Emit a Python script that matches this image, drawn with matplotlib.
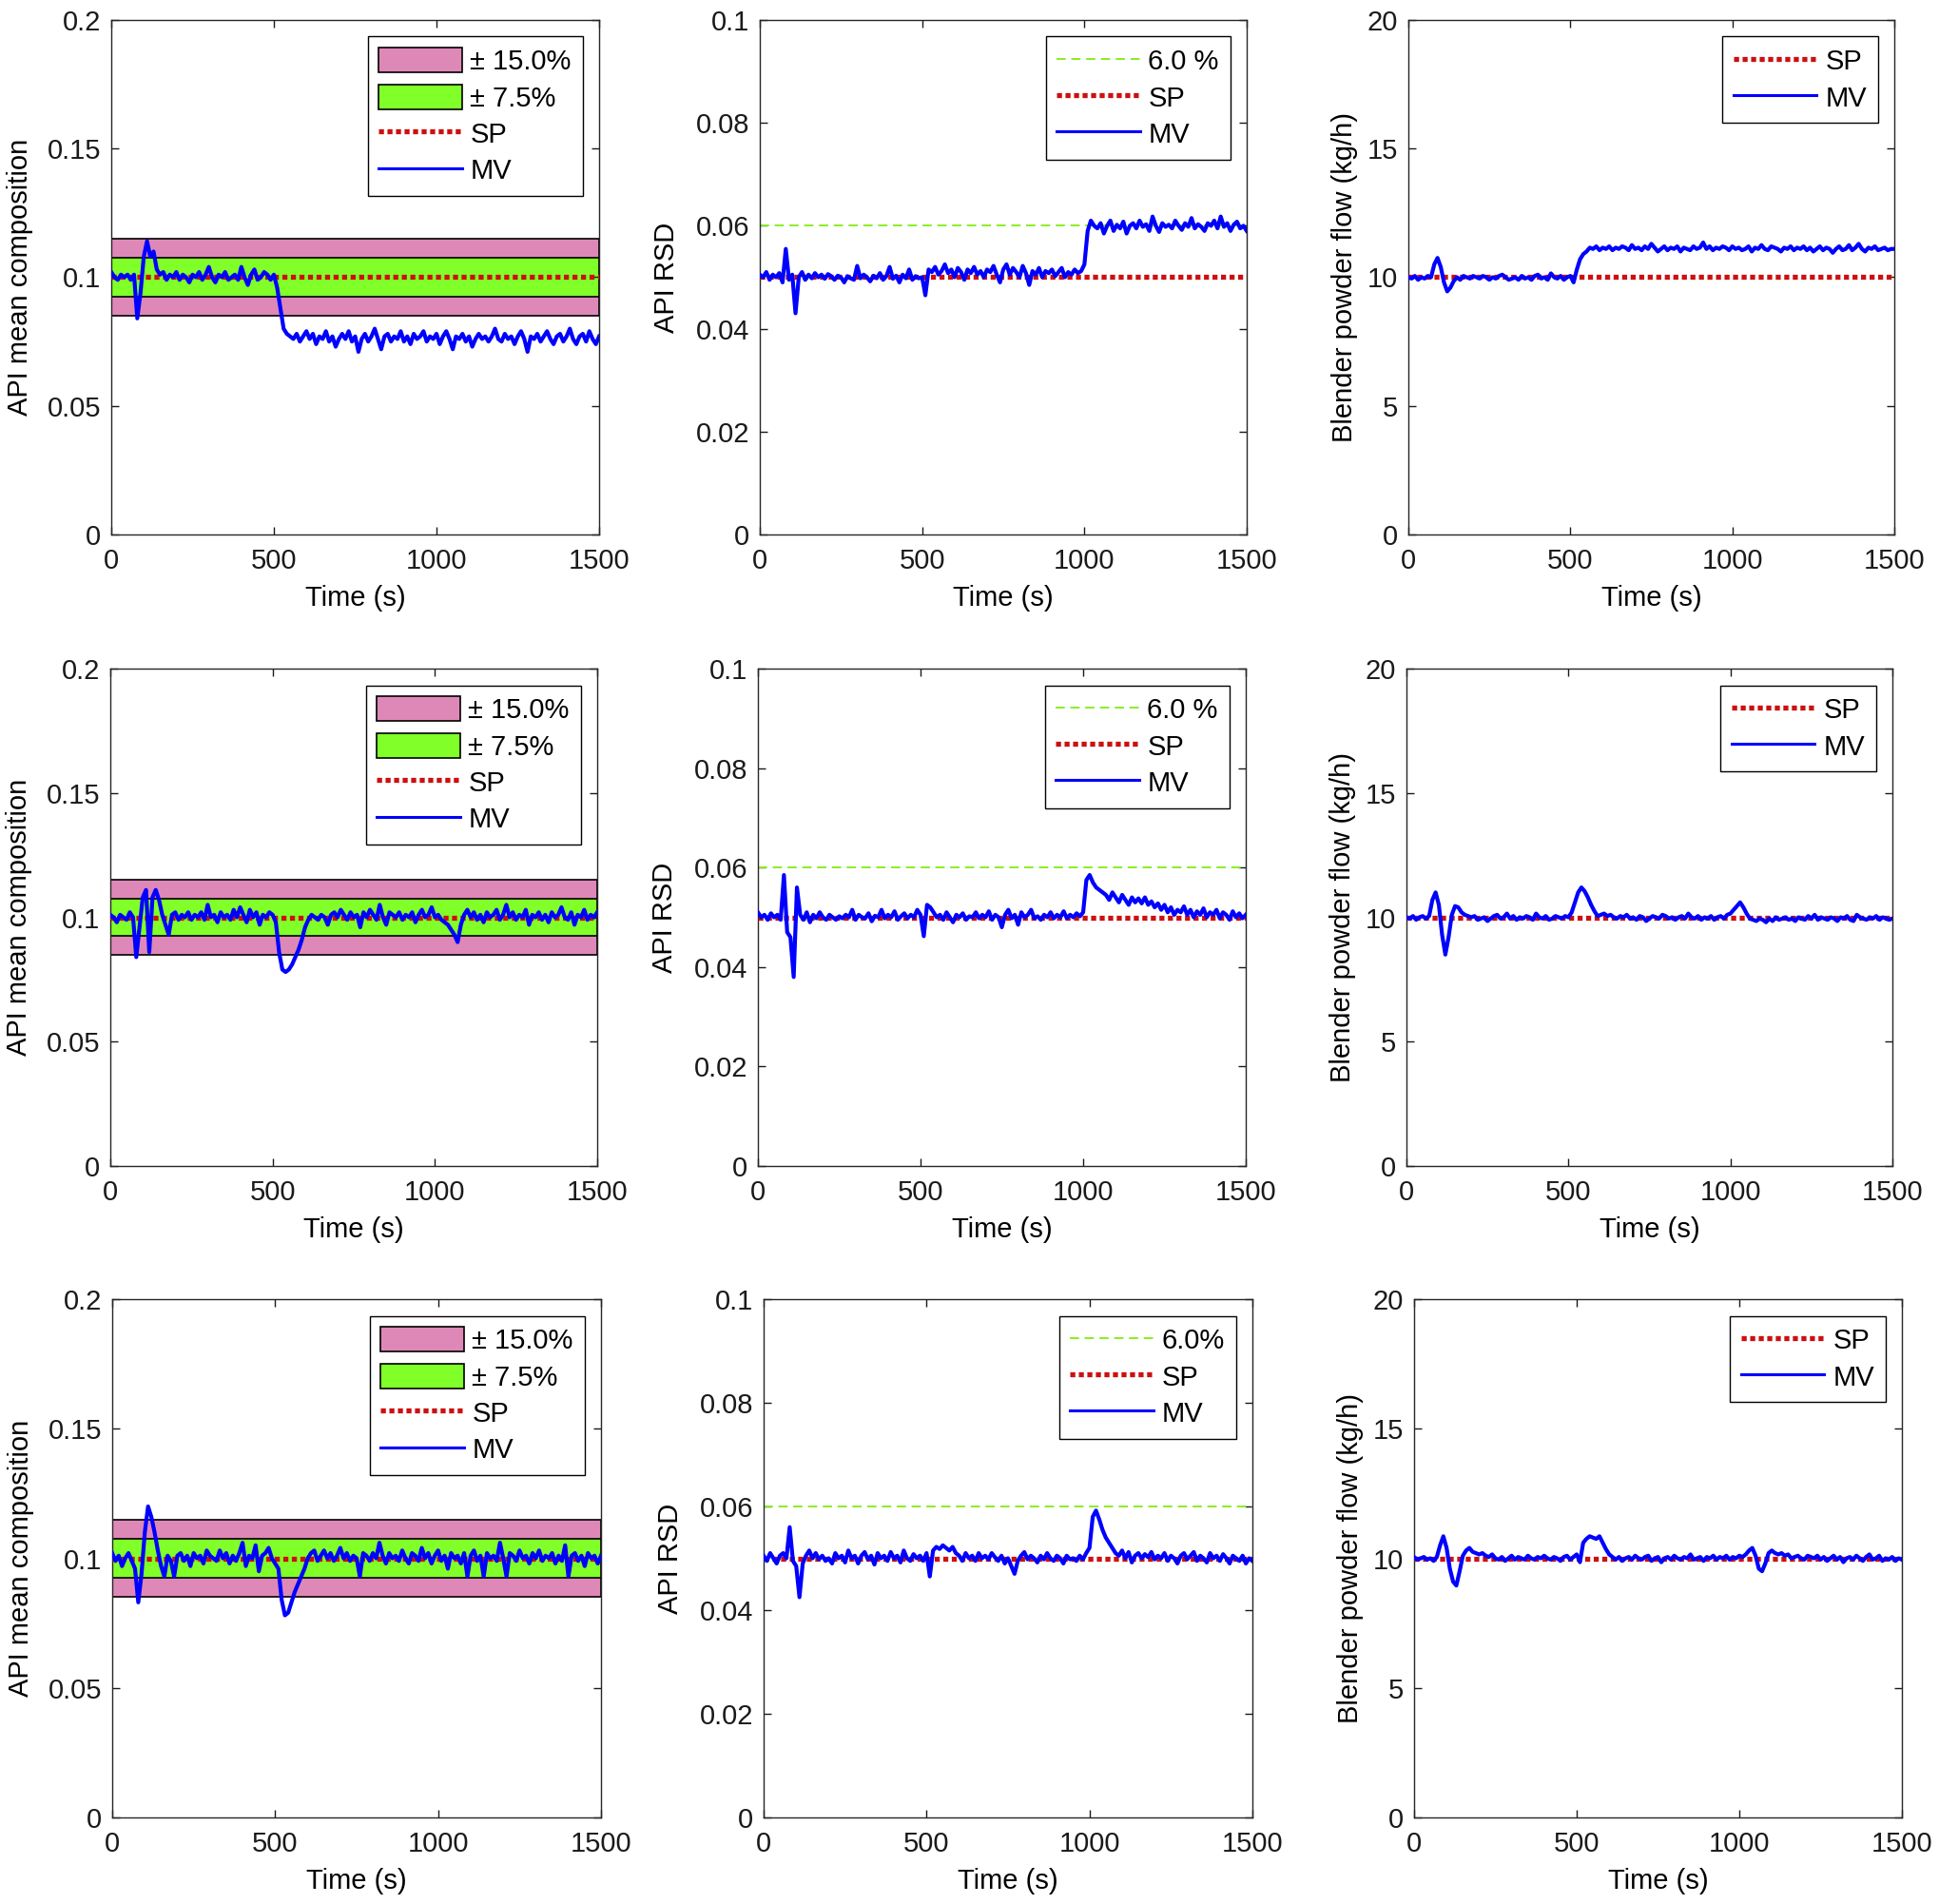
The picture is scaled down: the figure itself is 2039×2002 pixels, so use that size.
import matplotlib.pyplot as plt
import numpy as np
from matplotlib.lines import Line2D
from matplotlib.patches import Patch
from matplotlib.ticker import FuncFormatter

plt.rcParams['font.family'] = ['Liberation Sans', 'DejaVu Sans']

# set points and limits
comp_sp = 0.1
rsd_sp = 0.05
rsd_limit = 0.06
flow_sp = 10.0
band_wide = 0.15
band_narrow = 0.075

# measured values, one sample every 10 s from 0 to 1500 s
comp_mv_1 = [
    0.102, 0.100, 0.099, 0.101, 0.100, 0.101, 0.099, 0.101, 0.084, 0.094,
    0.108, 0.114, 0.108, 0.110, 0.103, 0.101, 0.102, 0.099, 0.101, 0.100,
    0.102, 0.099, 0.101, 0.100, 0.098, 0.101, 0.100, 0.102, 0.099, 0.101,
    0.104, 0.100, 0.098, 0.101, 0.100, 0.102, 0.099, 0.100, 0.101, 0.099,
    0.104, 0.100, 0.097, 0.101, 0.103, 0.099, 0.100, 0.102, 0.101, 0.099,
    0.101, 0.096, 0.088, 0.080, 0.078, 0.077, 0.076, 0.078, 0.075, 0.077,
    0.079, 0.076, 0.078, 0.074, 0.077, 0.076, 0.079, 0.075, 0.077, 0.073,
    0.076, 0.078, 0.076, 0.079, 0.075, 0.077, 0.071, 0.076, 0.078, 0.075,
    0.077, 0.080, 0.076, 0.072, 0.077, 0.078, 0.075, 0.077, 0.076, 0.079,
    0.075, 0.077, 0.074, 0.078, 0.076, 0.077, 0.079, 0.075, 0.077, 0.076,
    0.078, 0.074, 0.077, 0.079, 0.076, 0.072, 0.077, 0.076, 0.078, 0.075,
    0.077, 0.073, 0.076, 0.078, 0.076, 0.077, 0.075, 0.077, 0.080, 0.076,
    0.075, 0.078, 0.076, 0.077, 0.074, 0.077, 0.079, 0.076, 0.071, 0.077,
    0.076, 0.078, 0.075, 0.077, 0.079, 0.076, 0.074, 0.077, 0.078, 0.075,
    0.077, 0.080, 0.076, 0.074, 0.077, 0.078, 0.075, 0.079, 0.076, 0.074,
    0.077]

rsd_mv_1 = [
    0.0505, 0.0500, 0.0510, 0.0495, 0.0505, 0.0500, 0.0508, 0.0490, 0.0555, 0.0495,
    0.0505, 0.0430, 0.0500, 0.0510, 0.0495, 0.0505, 0.0498, 0.0508, 0.0500, 0.0505,
    0.0497, 0.0506, 0.0502, 0.0495, 0.0503, 0.0500, 0.0490, 0.0502, 0.0498, 0.0495,
    0.0522, 0.0498, 0.0505, 0.0500, 0.0492, 0.0503, 0.0498, 0.0508, 0.0495, 0.0502,
    0.0520, 0.0497, 0.0503, 0.0490, 0.0505, 0.0498, 0.0515, 0.0495, 0.0502, 0.0498,
    0.0500, 0.0465, 0.0515, 0.0510, 0.0520, 0.0505, 0.0512, 0.0525, 0.0508, 0.0515,
    0.0500, 0.0518, 0.0510, 0.0495, 0.0515, 0.0508, 0.0520, 0.0505, 0.0512, 0.0500,
    0.0515, 0.0510, 0.0522, 0.0505, 0.0490, 0.0515, 0.0525, 0.0505, 0.0518, 0.0510,
    0.0500, 0.0522, 0.0508, 0.0485, 0.0512, 0.0505, 0.0518, 0.0500, 0.0512, 0.0508,
    0.0515, 0.0502, 0.0510, 0.0518, 0.0500, 0.0510, 0.0505, 0.0515, 0.0508, 0.0512,
    0.0525, 0.0590, 0.0610, 0.0600, 0.0595, 0.0605, 0.0585, 0.0600, 0.0610, 0.0590,
    0.0602, 0.0595, 0.0608, 0.0585, 0.0600, 0.0605, 0.0595, 0.0610, 0.0598, 0.0603,
    0.0590, 0.0618, 0.0600, 0.0588, 0.0605, 0.0598, 0.0602, 0.0595, 0.0610, 0.0600,
    0.0592, 0.0605, 0.0598, 0.0615, 0.0595, 0.0603, 0.0598, 0.0590, 0.0605, 0.0600,
    0.0610, 0.0595, 0.0618, 0.0598, 0.0605, 0.0590, 0.0602, 0.0608, 0.0595, 0.0600,
    0.0590]

flow_mv_1 = [
    10.0, 9.95, 10.05, 9.9, 10.0, 9.95, 10.05, 10.0, 10.5, 10.75,
    10.4, 9.8, 9.45, 9.6, 9.85, 10.0, 9.9, 10.05, 10.0, 9.95,
    10.05, 10.0, 9.95, 10.05, 10.0, 9.9, 10.0, 9.95, 10.05, 10.1,
    10.0, 9.9, 9.95, 10.0, 9.9, 10.05, 9.95, 10.0, 9.9, 10.05,
    10.1, 9.95, 10.0, 9.9, 10.15, 10.0, 9.95, 10.05, 9.9, 10.0,
    10.05, 9.8, 10.3, 10.7, 10.9, 11.0, 11.15, 11.1, 11.2, 11.05,
    11.15, 11.1, 11.2, 11.05, 11.15, 11.1, 11.2, 11.15, 11.05, 11.25,
    11.1, 11.15, 11.05, 11.2, 11.1, 11.3, 11.15, 11.0, 11.1, 11.2,
    11.05, 11.15, 11.1, 11.2, 11.0, 11.15, 11.1, 11.05, 11.2, 11.1,
    11.15, 11.35, 11.1, 11.2, 11.05, 11.15, 11.1, 11.2, 11.15, 11.05,
    11.2, 11.1, 11.15, 11.05, 11.1, 11.2, 11.0, 11.15, 11.1, 11.25,
    11.1, 11.05, 11.2, 11.15, 11.1, 11.0, 11.15, 11.1, 11.2, 11.05,
    11.15, 11.1, 11.2, 11.05, 11.15, 11.0, 11.1, 11.2, 11.05, 11.15,
    11.1, 10.95, 11.1, 11.2, 11.05, 11.1, 11.25, 11.05, 11.15, 11.3,
    11.1, 11.0, 11.15, 11.1, 11.2, 11.05, 11.1, 11.15, 11.05, 11.1,
    11.1]

comp_mv_2 = [
    0.101, 0.100, 0.098, 0.101, 0.100, 0.099, 0.102, 0.100, 0.084, 0.096,
    0.108, 0.111, 0.086, 0.108, 0.111, 0.107, 0.101, 0.097, 0.093, 0.101,
    0.102, 0.099, 0.101, 0.100, 0.102, 0.099, 0.101, 0.100, 0.102, 0.099,
    0.105, 0.100, 0.101, 0.098, 0.102, 0.100, 0.101, 0.099, 0.103, 0.100,
    0.104, 0.101, 0.098, 0.103, 0.100, 0.102, 0.097, 0.101, 0.100, 0.102,
    0.101, 0.098, 0.086, 0.079, 0.078, 0.079, 0.081, 0.084, 0.087, 0.091,
    0.096, 0.099, 0.101, 0.100, 0.099, 0.101, 0.100, 0.097, 0.101, 0.102,
    0.100, 0.103, 0.101, 0.099, 0.102, 0.100, 0.101, 0.096, 0.102, 0.100,
    0.103, 0.101, 0.099, 0.105, 0.100, 0.097, 0.102, 0.101, 0.100, 0.102,
    0.099, 0.101, 0.100, 0.102, 0.098, 0.101, 0.103, 0.100, 0.101, 0.104,
    0.100, 0.101, 0.099, 0.098, 0.097, 0.095, 0.093, 0.090, 0.097, 0.101,
    0.103, 0.100, 0.102, 0.099, 0.101, 0.098, 0.102, 0.100, 0.101, 0.103,
    0.099, 0.101, 0.105, 0.100, 0.102, 0.099, 0.101, 0.100, 0.103, 0.097,
    0.101, 0.100, 0.102, 0.099, 0.101, 0.098, 0.102, 0.100, 0.101, 0.104,
    0.100, 0.099, 0.102, 0.097, 0.101, 0.100, 0.103, 0.099, 0.101, 0.100,
    0.102]

rsd_mv_2 = [
    0.0510, 0.0500, 0.0505, 0.0495, 0.0508, 0.0500, 0.0505, 0.0495, 0.0585, 0.0470,
    0.0460, 0.0380, 0.0560, 0.0505, 0.0495, 0.0510, 0.0490, 0.0505, 0.0498, 0.0510,
    0.0500, 0.0495, 0.0505, 0.0500, 0.0495, 0.0502, 0.0498, 0.0505, 0.0500, 0.0515,
    0.0495, 0.0505, 0.0500, 0.0498, 0.0508, 0.0492, 0.0503, 0.0500, 0.0515, 0.0498,
    0.0505, 0.0500, 0.0512, 0.0495, 0.0502, 0.0508, 0.0498, 0.0505, 0.0500, 0.0515,
    0.0505, 0.0462, 0.0525, 0.0520, 0.0510, 0.0500, 0.0505, 0.0495, 0.0510, 0.0500,
    0.0490, 0.0505, 0.0500, 0.0508, 0.0495, 0.0502, 0.0500, 0.0510, 0.0498, 0.0505,
    0.0500, 0.0512, 0.0495, 0.0505, 0.0500, 0.0480, 0.0505, 0.0515, 0.0498, 0.0505,
    0.0485, 0.0510, 0.0500, 0.0505, 0.0515, 0.0498, 0.0502, 0.0495, 0.0505, 0.0500,
    0.0510, 0.0498, 0.0505, 0.0500, 0.0512, 0.0498, 0.0505, 0.0500, 0.0508, 0.0502,
    0.0510, 0.0575, 0.0585, 0.0570, 0.0560, 0.0555, 0.0550, 0.0545, 0.0535, 0.0550,
    0.0540, 0.0530, 0.0545, 0.0535, 0.0525, 0.0540, 0.0530, 0.0538, 0.0528, 0.0540,
    0.0525, 0.0532, 0.0520, 0.0528, 0.0515, 0.0525, 0.0510, 0.0520, 0.0505, 0.0515,
    0.0510, 0.0522, 0.0505, 0.0515, 0.0500, 0.0512, 0.0505, 0.0518, 0.0500, 0.0510,
    0.0505, 0.0515, 0.0498, 0.0510, 0.0505, 0.0495, 0.0512, 0.0500, 0.0508, 0.0498,
    0.0505]

flow_mv_2 = [
    10.0, 9.95, 10.05, 9.9, 10.0, 10.05, 9.95, 10.05, 10.7, 11.0,
    10.5, 9.3, 8.5, 9.2, 10.1, 10.45, 10.4, 10.2, 10.1, 10.05,
    10.0, 10.05, 9.9, 9.95, 10.0, 9.85, 9.95, 10.05, 10.1, 9.95,
    10.0, 10.15, 9.95, 10.05, 9.9, 10.0, 9.95, 10.05, 10.0, 9.9,
    10.15, 10.0, 9.95, 10.05, 9.9, 9.95, 10.05, 10.0, 9.95, 10.05,
    10.0, 10.2, 10.6, 11.0, 11.2, 11.05, 10.8, 10.5, 10.25, 10.05,
    10.1, 10.15, 10.05, 10.1, 10.0, 9.95, 10.05, 10.0, 10.1, 9.95,
    10.0, 9.9, 10.05, 10.0, 9.85, 9.95, 10.05, 10.0, 9.95, 10.1,
    10.05, 9.95, 10.0, 9.9, 10.0, 10.05, 9.95, 10.15, 10.0, 9.95,
    10.05, 9.9, 10.0, 9.95, 10.05, 9.9, 10.0, 10.05, 9.95, 10.1,
    10.15, 10.3, 10.45, 10.6, 10.4, 10.15, 9.95, 9.9, 9.85, 9.95,
    9.9, 9.8, 9.95, 9.85, 10.0, 9.9, 9.95, 10.0, 9.9, 9.95,
    9.85, 10.0, 9.95, 9.9, 10.05, 9.95, 10.1, 9.9, 10.0, 9.95,
    9.9, 10.0, 9.95, 9.85, 10.0, 9.95, 10.05, 9.9, 9.85, 10.1,
    10.0, 9.95, 9.9, 10.0, 9.95, 10.05, 9.9, 10.0, 9.95, 9.9,
    9.95]

comp_mv_3 = [
    0.102, 0.099, 0.101, 0.097, 0.100, 0.102, 0.099, 0.096, 0.083, 0.094,
    0.110, 0.120, 0.116, 0.110, 0.103, 0.097, 0.093, 0.101, 0.099, 0.093,
    0.101, 0.102, 0.099, 0.101, 0.097, 0.102, 0.100, 0.101, 0.098, 0.103,
    0.101, 0.100, 0.099, 0.103, 0.100, 0.102, 0.098, 0.101, 0.099, 0.102,
    0.106, 0.097, 0.101, 0.100, 0.105, 0.095, 0.101, 0.102, 0.104, 0.100,
    0.098, 0.096, 0.084, 0.078, 0.079, 0.083, 0.087, 0.090, 0.093, 0.096,
    0.100, 0.102, 0.103, 0.099, 0.101, 0.103, 0.100, 0.102, 0.099, 0.101,
    0.104, 0.100, 0.102, 0.099, 0.101, 0.100, 0.093, 0.102, 0.101, 0.099,
    0.102, 0.100, 0.106, 0.101, 0.098, 0.102, 0.100, 0.101, 0.099, 0.103,
    0.100, 0.098, 0.102, 0.101, 0.099, 0.104, 0.100, 0.102, 0.098, 0.101,
    0.103, 0.099, 0.101, 0.096, 0.102, 0.100, 0.101, 0.098, 0.102, 0.093,
    0.101, 0.103, 0.099, 0.101, 0.093, 0.102, 0.100, 0.101, 0.099, 0.106,
    0.100, 0.093, 0.102, 0.101, 0.099, 0.103, 0.100, 0.101, 0.098, 0.102,
    0.100, 0.103, 0.099, 0.101, 0.100, 0.102, 0.098, 0.101, 0.099, 0.105,
    0.093, 0.101, 0.102, 0.099, 0.101, 0.097, 0.102, 0.100, 0.101, 0.098,
    0.101]

rsd_mv_3 = [
    0.0505, 0.0495, 0.0510, 0.0500, 0.0490, 0.0505, 0.0510, 0.0500, 0.0560, 0.0495,
    0.0485, 0.0425, 0.0490, 0.0505, 0.0515, 0.0500, 0.0510, 0.0498, 0.0505, 0.0495,
    0.0500, 0.0490, 0.0510, 0.0500, 0.0505, 0.0492, 0.0515, 0.0500, 0.0505, 0.0490,
    0.0505, 0.0512, 0.0498, 0.0505, 0.0488, 0.0510, 0.0500, 0.0505, 0.0495, 0.0512,
    0.0500, 0.0505, 0.0492, 0.0515, 0.0500, 0.0495, 0.0508, 0.0500, 0.0505, 0.0495,
    0.0510, 0.0465, 0.0515, 0.0522, 0.0518, 0.0525, 0.0520, 0.0515, 0.0522, 0.0510,
    0.0505, 0.0495, 0.0510, 0.0500, 0.0505, 0.0495, 0.0510, 0.0500, 0.0505, 0.0498,
    0.0510, 0.0502, 0.0495, 0.0505, 0.0490, 0.0500, 0.0485, 0.0470, 0.0495, 0.0505,
    0.0512, 0.0498, 0.0505, 0.0500, 0.0492, 0.0505, 0.0498, 0.0510, 0.0500, 0.0495,
    0.0505, 0.0500, 0.0490, 0.0505, 0.0498, 0.0500, 0.0495, 0.0505, 0.0498, 0.0510,
    0.0520, 0.0580, 0.0592, 0.0575, 0.0555, 0.0540, 0.0530, 0.0520, 0.0510, 0.0505,
    0.0515, 0.0500, 0.0512, 0.0492, 0.0505, 0.0510, 0.0500, 0.0508, 0.0502, 0.0512,
    0.0498, 0.0505, 0.0500, 0.0510, 0.0495, 0.0505, 0.0500, 0.0490, 0.0505, 0.0510,
    0.0498, 0.0505, 0.0512, 0.0495, 0.0505, 0.0500, 0.0492, 0.0510, 0.0500, 0.0505,
    0.0495, 0.0508, 0.0500, 0.0490, 0.0505, 0.0500, 0.0495, 0.0505, 0.0490, 0.0500,
    0.0495]

flow_mv_3 = [
    10.05, 9.95, 10.0, 10.05, 9.95, 10.0, 9.9, 10.05, 10.5, 10.85,
    10.4, 9.6, 9.1, 8.95, 9.5, 10.1, 10.3, 10.4, 10.25, 10.2,
    10.15, 10.2, 10.1, 10.05, 10.15, 10.0, 9.95, 10.05, 9.9, 10.0,
    10.1, 9.95, 10.05, 10.0, 9.95, 10.1, 10.0, 9.95, 10.05, 10.0,
    10.1, 10.0, 9.95, 10.05, 10.0, 9.9, 10.05, 10.1, 9.95, 10.05,
    10.15, 9.85, 10.6, 10.75, 10.85, 10.8, 10.75, 10.85, 10.6, 10.35,
    10.15, 10.05, 9.95, 10.05, 9.9, 10.0, 10.05, 9.95, 10.1, 10.0,
    9.95, 10.05, 10.1, 9.9, 10.0, 10.05, 9.85, 10.0, 10.05, 9.95,
    10.1, 10.0, 9.95, 10.05, 10.0, 10.15, 9.95, 10.0, 10.05, 9.9,
    10.05, 10.0, 10.1, 9.95, 10.05, 10.0, 10.1, 9.95, 10.05, 10.0,
    10.1, 10.05, 10.15, 10.3, 10.4, 10.1, 9.6, 9.5, 9.8, 10.2,
    10.3, 10.2, 10.15, 10.2, 10.1, 10.15, 10.0, 10.05, 10.1, 10.0,
    9.95, 10.1, 10.05, 10.0, 10.1, 9.95, 10.05, 9.9, 10.0, 10.1,
    9.95, 10.05, 9.85, 10.0, 10.05, 9.95, 10.1, 10.0, 9.9, 10.05,
    10.15, 9.95, 10.0, 10.1, 9.9, 10.0, 9.95, 10.05, 9.9, 10.0,
    9.95]

comp_series = [comp_mv_1, comp_mv_2, comp_mv_3]
rsd_series = [rsd_mv_1, rsd_mv_2, rsd_mv_3]
flow_series = [flow_mv_1, flow_mv_2, flow_mv_3]
rsd_limit_labels = ['6.0 %', '6.0 %', '6.0%']

PINK = '#DE88B8'
GREEN = '#80FF28'
RED = '#CC1010'
BLUE = '#0000FF'
LIME = '#88EE22'
FS = 21
MV_LW = 3.0
SP_LW = 3.8
SP_LS = (0, (1, 0.7))

# axes boxes in pixels (left, top, right, bottom) for a 2040 x 2002 figure
W, H = 2040, 2002
row_px = [(21, 562), (703, 1226), (1366, 1911)]
col_px = [[(117, 630), (799, 1311), (1481, 1992)],
          [(116, 628), (797, 1310), (1479, 1990)],
          [(118, 632), (803, 1317), (1487, 2000)]]

fmt = FuncFormatter(lambda v, p: f'{v:g}')


def style(ax, ymax, yticks, ylabel, pad):
    ax.set_xlim(0, 1500)
    ax.set_ylim(0, ymax)
    ax.set_xticks([0, 500, 1000, 1500])
    ax.set_yticks(yticks)
    ax.yaxis.set_major_formatter(fmt)
    ax.tick_params(direction='in', top=True, right=True, length=6,
                   width=1, labelsize=FS, pad=8, colors='#1a1a1a')
    ax.tick_params(axis='x', pad=10)
    for s in ax.spines.values():
        s.set_linewidth(1.0)
        s.set_color('#262626')
    ax.set_xlabel('Time (s)', fontsize=FS, labelpad=8)
    ax.set_ylabel(ylabel, fontsize=FS, labelpad=pad)


def sp_line(ax, y):
    return ax.axhline(y, color=RED, lw=SP_LW, ls=SP_LS,
                      dash_capstyle='butt', zorder=3)


def legend(ax, handles, labels):
    leg = ax.legend(handles, labels, loc='upper right', fontsize=FS,
                    handlelength=3.0, handleheight=1.0, handletextpad=0.3,
                    borderpad=0.4, labelspacing=0.32, borderaxespad=0.6,
                    fancybox=False, framealpha=1, edgecolor='black')
    leg.get_frame().set_linewidth(1.0)


def sp_handle():
    return Line2D([], [], color=RED, lw=SP_LW, ls=SP_LS,
                  dash_capstyle='butt')


def mv_handle():
    return Line2D([], [], color=BLUE, lw=2.2)


fig = plt.figure(figsize=(W / 100, H / 100), dpi=100)

for r in range(3):
    top, bot = row_px[r]
    axes = []
    for c in range(3):
        left, right = col_px[r][c]
        axes.append(fig.add_axes([left / W, 1 - bot / H,
                                  (right - left) / W, (bot - top) / H]))
    ax1, ax2, ax3 = axes

    # API mean composition
    mv = np.array(comp_series[r])
    t = np.linspace(0, 1500, len(mv))
    ax1.axhspan(comp_sp * (1 - band_wide), comp_sp * (1 + band_wide),
                facecolor=PINK, edgecolor='black', lw=1.2, zorder=1)
    ax1.axhspan(comp_sp * (1 - band_narrow), comp_sp * (1 + band_narrow),
                facecolor=GREEN, edgecolor='black', lw=1.2, zorder=1.5)
    sp_line(ax1, comp_sp)
    ax1.plot(t, mv, color=BLUE, lw=MV_LW, zorder=4)
    style(ax1, 0.2, [0, 0.05, 0.1, 0.15, 0.2], 'API mean composition', 10)
    legend(ax1, [Patch(facecolor=PINK, edgecolor='black', lw=1.2),
                 Patch(facecolor=GREEN, edgecolor='black', lw=1.2),
                 sp_handle(), mv_handle()],
           ['\u00b1 15.0%', '\u00b1 7.5%', 'SP', 'MV'])

    # API RSD
    mv = np.array(rsd_series[r])
    t = np.linspace(0, 1500, len(mv))
    ax2.axhline(rsd_limit, color=LIME, lw=1.4, ls=(0, (5, 3)), zorder=2)
    sp_line(ax2, rsd_sp)
    ax2.plot(t, mv, color=BLUE, lw=MV_LW, zorder=4)
    style(ax2, 0.1, [0, 0.02, 0.04, 0.06, 0.08, 0.1], 'API RSD', 12)
    legend(ax2, [Line2D([], [], color=LIME, lw=1.4, ls=(0, (5, 3))),
                 sp_handle(), mv_handle()],
           [rsd_limit_labels[r], 'SP', 'MV'])

    # blender powder flow
    mv = np.array(flow_series[r])
    t = np.linspace(0, 1500, len(mv))
    sp_line(ax3, flow_sp)
    ax3.plot(t, mv, color=BLUE, lw=MV_LW, zorder=4)
    style(ax3, 20, [0, 5, 10, 15, 20], 'Blender powder flow (kg/h)', 7)
    legend(ax3, [sp_handle(), mv_handle()], ['SP', 'MV'])

fig.savefig('out.png', dpi=100)
